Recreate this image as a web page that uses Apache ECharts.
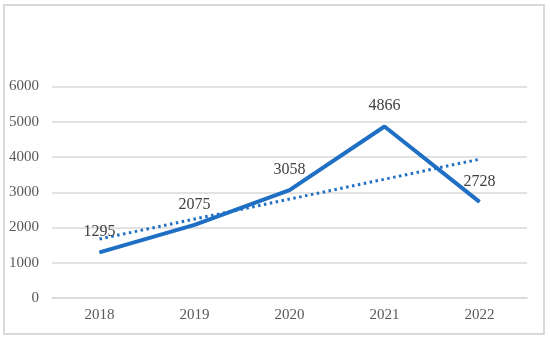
<!DOCTYPE html>
<html>
<head>
<meta charset="utf-8">
<script src="https://cdn.jsdelivr.net/npm/echarts@6/dist/echarts.min.js"></script>
<style>
html,body{margin:0;padding:0;background:#fff;}
#c{width:550px;height:341px;}
</style>
</head>
<body>
<div id="c"></div>
<script>
var categories = ['2018', '2019', '2020', '2021', '2022'];
var values = [1295, 2075, 3058, 4866, 2728];
var trendStart = 1673;
var trendEnd = 3936;
var yTicks = [0, 1000, 2000, 3000, 4000, 5000, 6000];

var chart = echarts.init(document.getElementById('c'), null, {renderer: 'canvas'});
var font = '"Liberation Serif", "Times New Roman", serif';
chart.setOption({
  animation: false,
  backgroundColor: '#ffffff',
  graphic: [{
    type: 'rect',
    shape: {x: 4, y: 5, width: 540, height: 329},
    style: {fill: 'none', stroke: '#d9d9d9', lineWidth: 2}
  }],
  grid: {left: 52, right: 23, top: 86.5, bottom: 43, containLabel: false},
  xAxis: {
    type: 'category',
    data: categories,
    boundaryGap: true,
    axisLine: {show: true, lineStyle: {color: '#d9d9d9', width: 1.5}},
    axisTick: {show: false},
    axisLabel: {color: '#595959', fontFamily: font, fontSize: 15, margin: 10}
  },
  yAxis: {
    type: 'value',
    min: yTicks[0],
    max: yTicks[yTicks.length - 1],
    interval: 1000,
    axisLine: {show: false},
    axisTick: {show: false},
    splitLine: {lineStyle: {color: '#d9d9d9', width: 1.5}},
    axisLabel: {
      color: '#595959', fontFamily: font, fontSize: 15, margin: 13,
      formatter: function (v) { return String(v); }
    }
  },
  series: [
    {
      type: 'line',
      data: [[0, trendStart], [categories.length - 1, trendEnd]],
      symbol: 'none',
      lineStyle: {color: '#1f6fc4', width: 3, type: [2.5, 3.5]},
      z: 2
    },
    {
      type: 'line',
      data: values,
      symbol: 'circle',
      symbolSize: 1,
      itemStyle: {color: '#1f6fc4'},
      lineStyle: {color: '#1f6fc4', width: 4},
      label: {
        show: true,
        position: 'top',
        distance: 12,
        color: '#404040',
        fontFamily: font,
        fontSize: 16
      },
      z: 3
    }
  ]
});
</script>
</body>
</html>
